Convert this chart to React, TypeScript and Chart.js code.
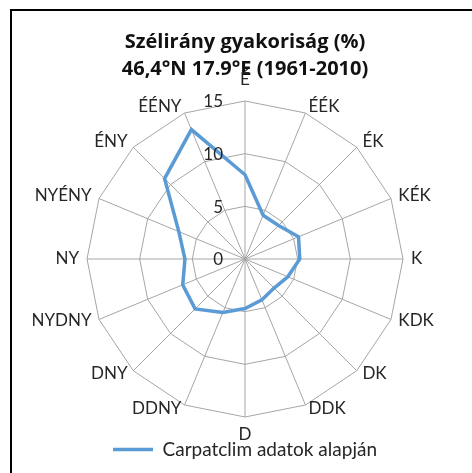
import React, { useEffect, useRef } from "react";
import { Chart, registerables } from "chart.js";

Chart.register(...registerables);

const DIRECTIONS = ["É", "ÉÉK", "ÉK", "KÉK", "K", "KDK", "DK", "DDK", "D", "DDNY", "DNY", "NYDNY", "NY", "NYÉNY", "ÉNY", "ÉÉNY"];
const FREQUENCY = [8.0, 4.5, 4.5, 5.5, 5.2, 4.4, 3.9, 4.2, 4.7, 5.5, 6.7, 6.4, 5.7, 6.8, 10.8, 13.3];
const TICK_VALUES = [0, 5, 10, 15];
const TITLE_LINES = ["Szélirány gyakoriság (%)", "46,4°N 17.9°E (1961-2010)"];
const SERIES_NAME = "Carpatclim adatok alapján";

const FONT = "Lato";
const TITLE_FONT = "Open Sans";
const TEXT_COLOR = "#262626";
const TITLE_COLOR = "#111111";
const GRID_COLOR = "#a6a6a6";
const LINE_COLOR = "#5B9BD5";

const CANVAS_W = 466;
const CANVAS_H = 470;
const CENTER_X = 233;
const CENTER_Y = 248;
const RADIUS = 158;

const labelsPlugin = {
  id: "customRadarLabels",
  afterDatasetsDraw(chart: any) {
    const scale = chart.scales.r;
    const ctx = chart.ctx as CanvasRenderingContext2D;
    ctx.save();
    ctx.fillStyle = TEXT_COLOR;
    ctx.font = `17px ${FONT}`;
    ctx.textAlign = "right";
    ctx.textBaseline = "middle";
    TICK_VALUES.forEach((v) => {
      const d = scale.getDistanceFromCenterForValue(v);
      ctx.fillText(String(v), scale.xCenter - 22, scale.yCenter - d + 1);
    });
    const labels = chart.data.labels as string[];
    const n = labels.length;
    labels.forEach((lab, i) => {
      const pos = scale.getPointPosition(i, scale.drawingArea);
      const a = (i / n) * 2 * Math.PI;
      const s = Math.sin(a);
      const c = Math.cos(a);
      let x: number, y: number;
      let align: CanvasTextAlign;
      if (Math.abs(s) < 1e-6) {
        align = "center";
        x = pos.x;
        y = c > 0 ? pos.y - 21 : pos.y + 17.5;
      } else {
        align = s > 0 ? "left" : "right";
        x = pos.x + 8 * s;
        y = pos.y - (c > 0 ? 7.5 : 3.5) * c;
      }
      ctx.textAlign = align;
      ctx.fillText(lab, x, y);
    });
    ctx.restore();
  },
};

export default function App() {
  const ref = useRef<HTMLCanvasElement | null>(null);
  useEffect(() => {
    if (!ref.current) return;
    const chart = new Chart(ref.current, {
      type: "radar",
      data: {
        labels: DIRECTIONS,
        datasets: [
          {
            label: SERIES_NAME,
            data: FREQUENCY,
            borderColor: LINE_COLOR,
            backgroundColor: LINE_COLOR,
            borderWidth: 3.5,
            fill: false,
            pointRadius: 0,
            pointHoverRadius: 0,
            tension: 0,
          },
        ],
      },
      options: {
        responsive: false,
        animation: false,
        layout: { padding: { top: 0, bottom: 12, left: 0, right: 0 } },
        scales: {
          r: {
            min: 0,
            max: 15,
            ticks: { stepSize: 5, display: false },
            grid: { color: GRID_COLOR, lineWidth: 1 },
            angleLines: { color: GRID_COLOR, lineWidth: 1 },
            pointLabels: { display: false },
            afterFit: (scale: any) => {
              scale.xCenter = CENTER_X;
              scale.yCenter = CENTER_Y;
              scale.drawingArea = RADIUS;
            },
          } as any,
        },
        plugins: {
          title: {
            display: true,
            text: TITLE_LINES,
            color: TITLE_COLOR,
            font: { family: TITLE_FONT, size: 20, weight: "bold", lineHeight: 1.35 },
            padding: { top: 18, bottom: 0 },
          },
          legend: {
            display: true,
            position: "bottom",
            labels: {
              color: TEXT_COLOR,
              font: { family: FONT, size: 19 },
              usePointStyle: true,
              pointStyle: "line",
              pointStyleWidth: 40,
            },
          },
          tooltip: { enabled: false },
        },
      },
      plugins: [labelsPlugin],
    });
    return () => chart.destroy();
  }, []);

  return (
    <div
      style={{
        position: "fixed",
        left: 10,
        top: 9,
        width: 480,
        height: 480,
        borderLeft: "2px solid #000",
        borderTop: "2px solid #000",
        background: "#fff",
      }}
    >
      <canvas ref={ref} width={CANVAS_W} height={CANVAS_H} style={{ display: "block" }} />
    </div>
  );
}
